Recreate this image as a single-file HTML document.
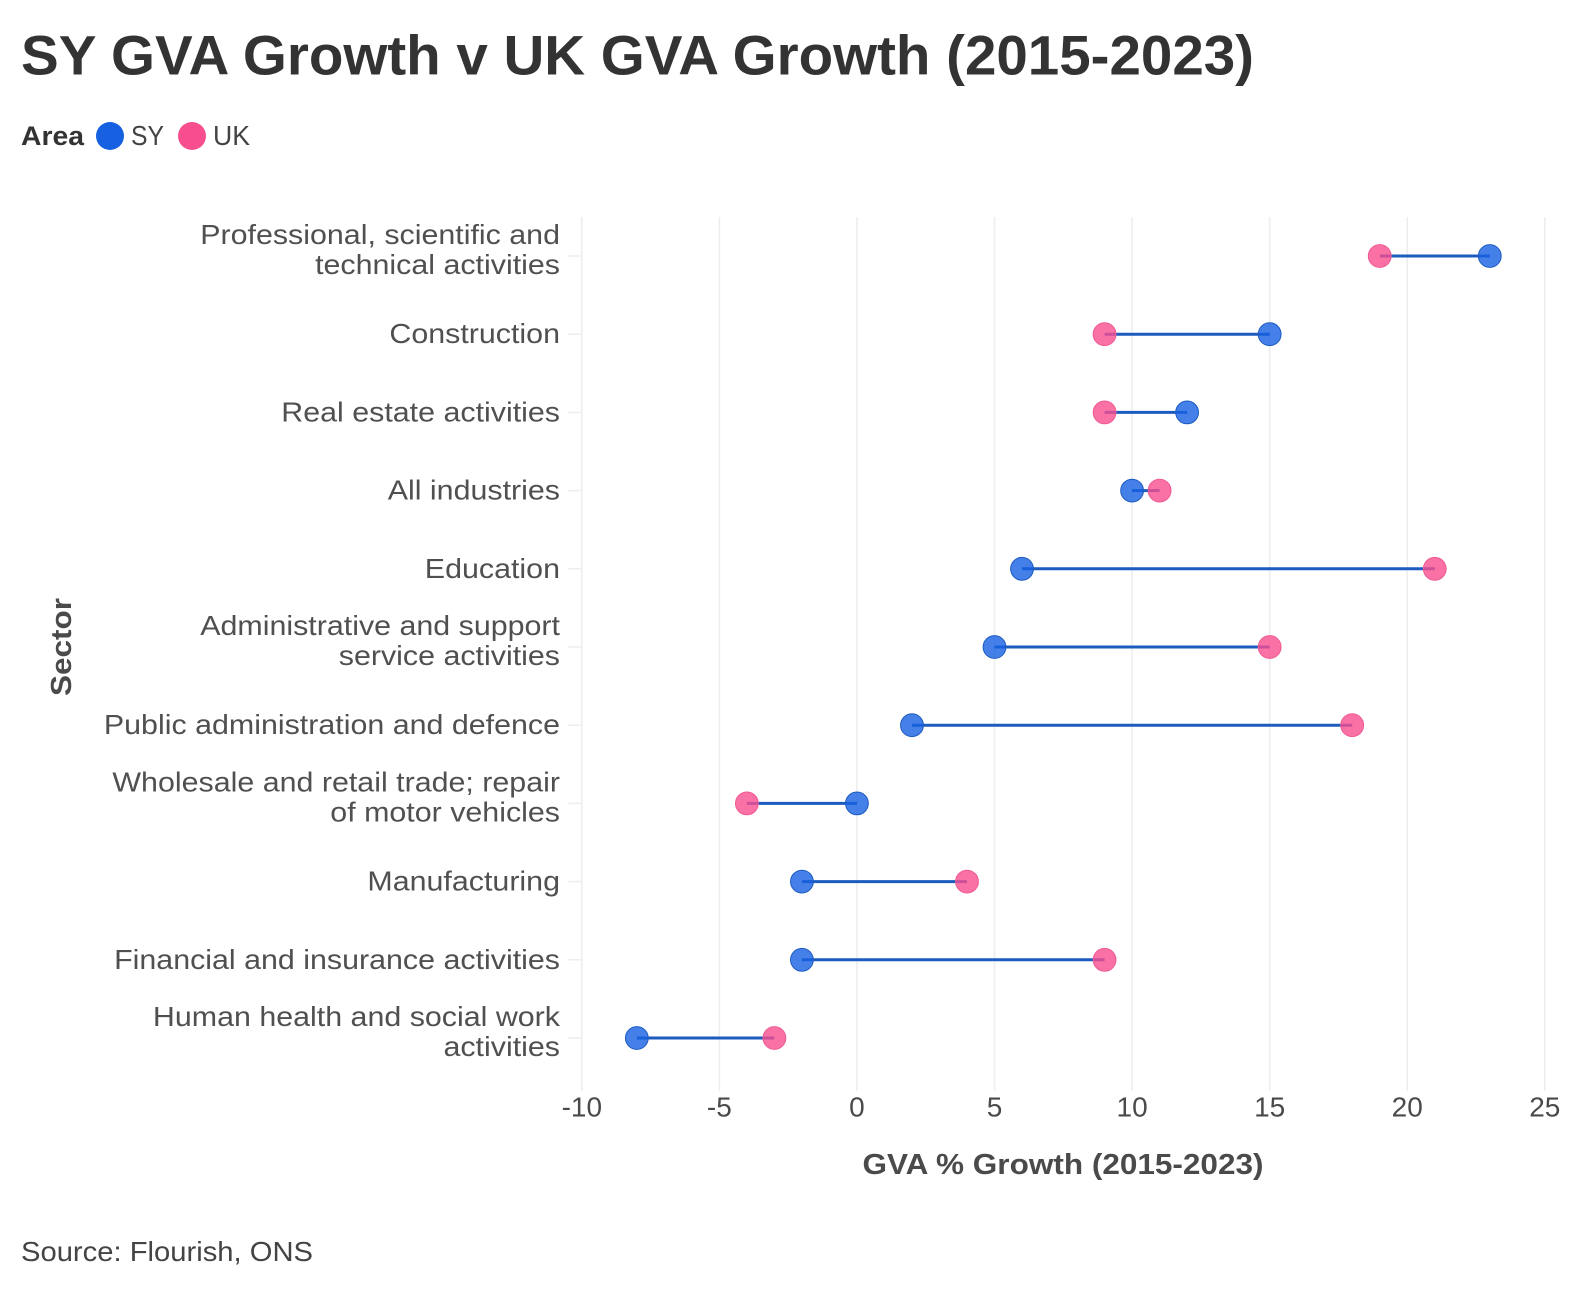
<!DOCTYPE html>
<html lang="en">
<head>
<meta charset="utf-8">
<title>SY GVA Growth v UK GVA Growth (2015-2023)</title>
<style>
html,body{margin:0;padding:0;background:#fff;width:1588px;height:1290px;overflow:hidden}
svg{display:block}
text{font-family:"Liberation Sans",sans-serif}
</style>
</head>
<body>
<svg id="chart" width="1588" height="1290" viewBox="0 0 1588 1290" xmlns="http://www.w3.org/2000/svg">
  <rect width="1588" height="1290" fill="#fff"/>
  <text x="21" y="74.5" font-size="56" font-weight="700" fill="#333" textLength="1233" lengthAdjust="spacingAndGlyphs">SY GVA Growth v UK GVA Growth (2015-2023)</text>
  <text x="21" y="145" font-size="27" font-weight="700" fill="#333" textLength="63" lengthAdjust="spacingAndGlyphs">Area</text>
  <circle cx="110" cy="136" r="14" fill="#1660e2"/>
  <text x="131" y="145" font-size="28" fill="#444" textLength="33" lengthAdjust="spacingAndGlyphs">SY</text>
  <circle cx="192" cy="136" r="14" fill="#f84d8f"/>
  <text x="213" y="145" font-size="28" fill="#444" textLength="37" lengthAdjust="spacingAndGlyphs">UK</text>
  <g id="grid"></g>
  <g id="xticks"></g>
  <g id="ylabels"></g>
  <g id="marks"></g>
  <text x="1063" y="1174" font-size="29" font-weight="700" fill="#4a4a4a" text-anchor="middle" textLength="401" lengthAdjust="spacingAndGlyphs">GVA % Growth (2015-2023)</text>
  <text x="0" y="0" transform="translate(71 647) rotate(-90)" font-size="29" font-weight="700" fill="#4a4a4a" text-anchor="middle" textLength="98" lengthAdjust="spacingAndGlyphs">Sector</text>
  <text x="21" y="1261" font-size="28" fill="#444" textLength="292" lengthAdjust="spacingAndGlyphs">Source: Flourish, ONS</text>
</svg>
<script>
const categories = [
  ["Professional, scientific and", "technical activities"],
  ["Construction"],
  ["Real estate activities"],
  ["All industries"],
  ["Education"],
  ["Administrative and support", "service activities"],
  ["Public administration and defence"],
  ["Wholesale and retail trade; repair", "of motor vehicles"],
  ["Manufacturing"],
  ["Financial and insurance activities"],
  ["Human health and social work", "activities"]
];
const syValues = [23, 15, 12, 10, 6, 5, 2, 0, -2, -2, -8];
const ukValues = [19, 9, 9, 11, 21, 15, 18, -4, 4, 9, -3];
const xTickValues = [-10, -5, 0, 5, 10, 15, 20, 25];

const NS = "http://www.w3.org/2000/svg";
const xDomain = [-10, 25], xRange = [581.8, 1544.8];
const plotTop = 217, plotBottom = 1091, firstRow = 256, rowStep = 78.2;
function xScale(v) {
  return xRange[0] + (v - xDomain[0]) / (xDomain[1] - xDomain[0]) * (xRange[1] - xRange[0]);
}
function yScale(i) {
  return firstRow + i * rowStep;
}
function make(parent, tag, attrs) {
  const el = document.createElementNS(NS, tag);
  for (const k in attrs) el.setAttribute(k, attrs[k]);
  parent.appendChild(el);
  return el;
}
const grid = document.getElementById("grid");
const xticks = document.getElementById("xticks");
const ylabels = document.getElementById("ylabels");
const marks = document.getElementById("marks");

xTickValues.forEach(function (t) {
  const line = make(grid, "line", {x1: xScale(t), x2: xScale(t), y1: plotTop, y2: plotBottom, stroke: "#eeeeee", "stroke-width": 1.6});
  
  
  const label = make(xticks, "text", {x: xScale(t), y: 1116.5, "font-size": 28, fill: "#4a4a4a", "text-anchor": "middle"});
  label.textContent = String(t);
  
  
});

categories.forEach(function (lines, i) {
  const y = yScale(i);
  const stub = make(grid, "line", {x1: 568, x2: 582, y1: y, y2: y, stroke: "#eeeeee", "stroke-width": 1.5});
  
  
  lines.forEach(function (txt, j) {
    const lift = lines.length > 1 ? 6 : 0;
    const base = y + 9 - lift + (j - (lines.length - 1) / 2) * 30;
    const label = make(ylabels, "text", {x: 560, y: base, "font-size": 27.5, fill: "#505050", "text-anchor": "end", lengthAdjust: "spacingAndGlyphs"});
    label.textContent = txt;
    
    
    label.setAttribute('textLength', label.getComputedTextLength() * 1.105);
  });
});

categories.forEach(function (lines, i) {
  const y = yScale(i);
  const connector = make(marks, "line", {x1: xScale(syValues[i]), x2: xScale(ukValues[i]), y1: y, y2: y, stroke: "#1d5bbf", "stroke-width": 3});
  
  
  const uk = make(marks, "circle", {cx: xScale(ukValues[i]), cy: y, r: 11.4, fill: "#f84d8f", "fill-opacity": 0.8, stroke: "#f05a94", "stroke-width": 1});
  
  
  const sy = make(marks, "circle", {cx: xScale(syValues[i]), cy: y, r: 11.4, fill: "#1660e2", "fill-opacity": 0.8, stroke: "#1d5bbf", "stroke-width": 1});
  
  
});
</script>
</body>
</html>
